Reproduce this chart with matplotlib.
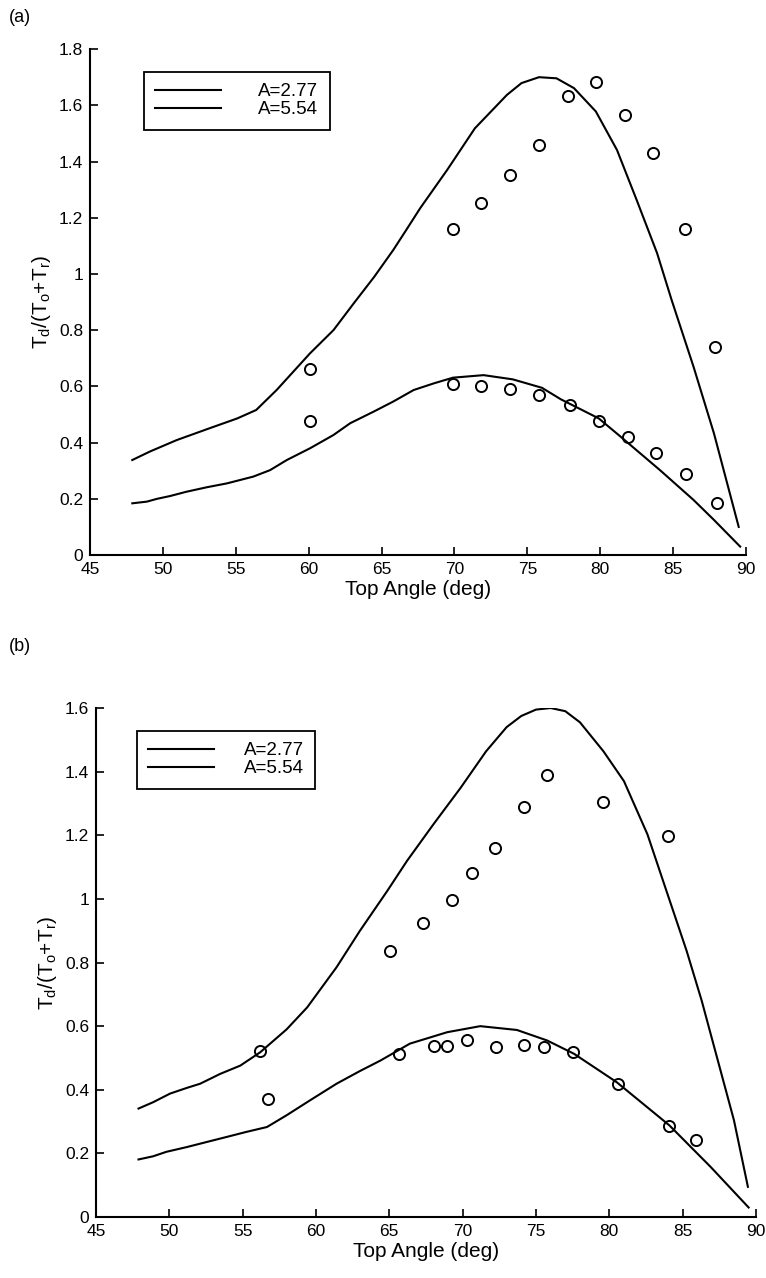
import matplotlib.pyplot as plt

plt.rcParams['font.family'] = ['Liberation Sans', 'DejaVu Sans']
plt.rcParams['mathtext.fontset'] = 'custom'
plt.rcParams['mathtext.rm'] = 'Liberation Sans'
plt.rcParams['mathtext.it'] = 'Liberation Sans'

# ---- panel (a) ----
a_upper_x = [47.9, 49.1, 50.95, 53.2, 55.1, 56.4, 57.8, 60.1, 61.7, 63.1, 64.5,
             65.8, 66.7, 67.65, 69.5, 71.4, 73.6, 74.6, 75.8, 77.0, 78.2, 79.7, 81.15,
             82.5, 83.9, 84.9, 86.4, 87.8, 89.5]
a_upper_y = [0.338, 0.368, 0.409, 0.451, 0.486, 0.516, 0.587, 0.718, 0.80, 0.896, 0.99,
             1.085, 1.157, 1.234, 1.370, 1.518, 1.637, 1.679, 1.70, 1.696, 1.661, 1.578, 1.441,
             1.263, 1.074, 0.907, 0.670, 0.433, 0.10]
a_lower_x = [47.9, 48.9, 49.6, 50.5, 51.6, 53.0, 54.4, 56.2, 57.35, 58.5, 60.1, 61.7, 62.85,
             64.45, 65.8, 67.2, 68.6, 69.9, 72.0, 74.0, 76.0, 77.3, 79.9, 81.4, 84.1, 86.4,
             87.8, 89.6]
a_lower_y = [0.184, 0.19, 0.20, 0.21, 0.225, 0.241, 0.255, 0.279, 0.302, 0.338, 0.380, 0.427, 0.469,
             0.51, 0.546, 0.587, 0.611, 0.631, 0.64, 0.625, 0.595, 0.554, 0.486, 0.421, 0.302, 0.196,
             0.125, 0.03]
a_exp_hi_x = [60.1, 69.9, 71.8, 73.8, 75.8, 77.8, 79.7, 81.7, 83.6, 85.8, 87.9]
a_exp_hi_y = [0.661, 1.161, 1.253, 1.352, 1.459, 1.633, 1.684, 1.567, 1.43, 1.159, 0.741]
a_exp_lo_x = [60.1, 69.9, 71.8, 73.8, 75.8, 77.9, 79.9, 81.9, 83.8, 85.9, 88.0]
a_exp_lo_y = [0.478, 0.607, 0.60, 0.59, 0.57, 0.533, 0.478, 0.42, 0.364, 0.288, 0.186]

# ---- panel (b) ----
b_upper_x = [47.9, 48.9, 50.05, 51.2, 52.1, 53.47, 54.84, 56.2, 58.0, 59.4, 61.4, 63.0, 64.86,
             66.2, 68.0, 69.86, 71.6, 73.0, 74.0, 75.0, 76.0, 77.0, 78.0, 79.6, 81.0, 82.6,
             83.97, 85.27, 86.3, 87.4, 88.5, 89.45]
b_upper_y = [0.341, 0.361, 0.388, 0.406, 0.419, 0.45, 0.476, 0.518, 0.59, 0.659, 0.785, 0.90, 1.025,
             1.119, 1.234, 1.349, 1.464, 1.54, 1.575, 1.595, 1.60, 1.59, 1.555, 1.464, 1.37, 1.203,
             1.015, 0.837, 0.68, 0.492, 0.304, 0.095]
b_lower_x = [47.9, 48.9, 49.8, 51.2, 52.56, 53.93, 55.2, 56.66, 58.0, 59.6, 61.4, 63.0, 64.4,
             66.4, 68.95, 71.2, 73.7, 75.76, 77.6, 80.5, 84.1, 86.9, 89.5]
b_lower_y = [0.181, 0.191, 0.205, 0.22, 0.236, 0.252, 0.267, 0.283, 0.32, 0.367, 0.419, 0.459, 0.492,
             0.545, 0.581, 0.60, 0.588, 0.555, 0.513, 0.424, 0.288, 0.158, 0.03]
b_exp_hi_x = [56.15, 65.03, 67.3, 69.25, 70.66, 72.2, 74.15, 75.74, 79.56, 83.97]
b_exp_hi_y = [0.523, 0.837, 0.924, 0.998, 1.082, 1.161, 1.289, 1.389, 1.304, 1.197]
b_exp_lo_x = [56.7, 65.65, 68.04, 68.95, 70.3, 72.3, 74.15, 75.55, 77.5, 80.6, 84.05, 85.9]
b_exp_lo_y = [0.372, 0.511, 0.539, 0.539, 0.555, 0.536, 0.542, 0.536, 0.520, 0.419, 0.286, 0.243]

legend_labels = ["A=2.77", "A=5.54"]
ylabel = r'T$_\mathregular{d}$/(T$_\mathregular{o}$+T$_\mathregular{r}$)'

fig = plt.figure(figsize=(7.66, 12.78), dpi=100)

panels = [
    dict(rect=[0.1175, 0.5657, 0.8564, 0.3959], ymax=1.8, tag="(a)", tag_y=0.986,
         leg_x=0.082, leg_pad=2.0,
         data=(a_upper_x, a_upper_y, a_lower_x, a_lower_y,
               a_exp_hi_x, a_exp_hi_y, a_exp_lo_x, a_exp_lo_y)),
    dict(rect=[0.1253, 0.0477, 0.8616, 0.3983], ymax=1.6, tag="(b)", tag_y=0.494,
         leg_x=0.062, leg_pad=1.6,
         data=(b_upper_x, b_upper_y, b_lower_x, b_lower_y,
               b_exp_hi_x, b_exp_hi_y, b_exp_lo_x, b_exp_lo_y)),
]

for p in panels:
    ax = fig.add_axes(p['rect'])
    ux, uy, lx, ly, ex1, ey1, ex2, ey2 = p['data']
    ymax = p['ymax']
    l1, = ax.plot(lx, ly, color='black', lw=1.5)
    l2, = ax.plot(ux, uy, color='black', lw=1.5)
    ax.plot(ex1, ey1, 'o', mfc='none', mec='black', ms=8, mew=1.4)
    ax.plot(ex2, ey2, 'o', mfc='none', mec='black', ms=8, mew=1.4)

    ax.set_xlim(45, 90)
    ax.set_ylim(0, ymax)
    ax.set_xticks(range(45, 91, 5))
    ticks = [round(0.2 * i, 1) for i in range(int(round(ymax / 0.2)) + 1)]
    ax.set_yticks(ticks)
    ax.set_yticklabels([f'{t:g}' for t in ticks])
    ax.spines['top'].set_visible(False)
    ax.spines['right'].set_visible(False)
    ax.spines['left'].set_linewidth(1.5)
    ax.spines['bottom'].set_linewidth(1.5)
    ax.tick_params(direction='in', length=6, width=1.2, labelsize=12.5)
    ax.tick_params(axis='x', pad=5)
    ax.tick_params(axis='y', pad=5)
    ax.set_xlabel("Top Angle (deg)", fontsize=15, labelpad=2)
    ax.set_ylabel(ylabel, fontsize=15, labelpad=4)

    leg = ax.legend([l1, l2], legend_labels, loc='upper left',
                    bbox_to_anchor=(p['leg_x'], 0.955),
                    fontsize=13.5, handlelength=3.5, handletextpad=p['leg_pad'], frameon=True,
                    fancybox=False, edgecolor='black', framealpha=1, borderpad=0.6,
                    labelspacing=0.05, borderaxespad=0)
    leg.get_frame().set_linewidth(1.3)

    fig.text(0.012, p['tag_y'], p['tag'], fontsize=13, va='center', ha='left')

fig.savefig("out.png", dpi=100)
